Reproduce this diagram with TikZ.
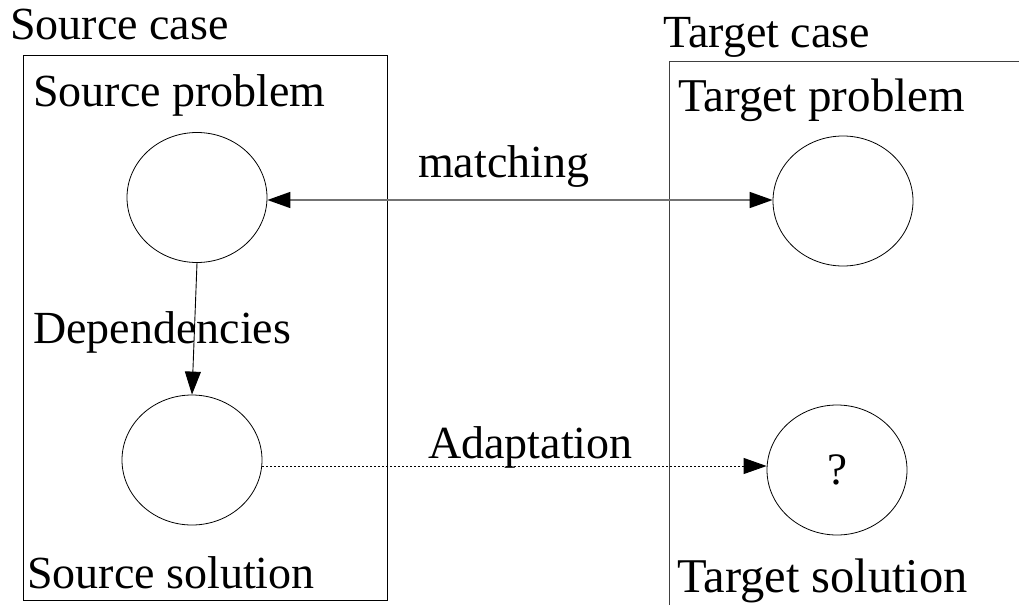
\documentclass[tikz,border=0pt]{standalone}
\usepackage{fontspec}
\setmainfont{Liberation Serif}
\usetikzlibrary{shapes.geometric,arrows.meta}
\begin{document}
\begin{tikzpicture}[x=1pt,y=-1pt,
  lbl/.style={anchor=base west,inner sep=0pt,font=\fontsize{46}{54}\selectfont},
  circ/.style={draw,ellipse,inner sep=0pt,minimum width=140pt,minimum height=130pt,line width=0.8pt},
  boxline/.style={line width=1pt},
  tip/.style={-{Triangle[length=23pt,width=16pt]}},
]
\useasboundingbox (0,0) rectangle (1019,605);
% boxes
\draw[boxline] (23,55) rectangle (387,600);
\draw[boxline,black!75] (669,605) -- (669,61) -- (1019,61);
% labels
\node[lbl] (sc) at (10,39) {Source case};
\node[lbl] (tc) at (663,47) {Target case};
\node[lbl] (sp) at (33,106) {Source problem};
\node[lbl] (tp) at (678,111) {\fontsize{47}{54}\selectfont Target problem};
\node[lbl] (dep) at (33,343) {Dependencies};
\node[lbl] (match) at (418,177) {matching};
\node[lbl] (adapt) at (428,458) {Adaptation};
\node[lbl] (ss) at (27,588) {Source solution};
\node[lbl] (ts) at (677,592) {\fontsize{48.5}{54}\selectfont Target solution};
% circles
\node[circ] (c1) at (197,197.5) {};
\node[circ] (c2) at (192,460) {};
\node[circ] (c3) at (843,201) {};
\node[circ] (c4) at (837,470) {\fontsize{45}{50}\selectfont ?};
% connectors
\draw[{Triangle[length=23pt,width=16pt,color=black]}-{Triangle[length=23pt,width=16pt,color=black]},line width=1.6pt,black!55]
  (c1.east |- 0,200) -- (c3.west |- 0,200);
\draw[tip,line width=0.9pt] (c1.south) -- (c2.north);
\draw[tip,line width=0.9pt,dash pattern=on 2pt off 2pt] (c2.east |- 0,466) -- (c4.west |- 0,466);
\end{tikzpicture}
\end{document}
